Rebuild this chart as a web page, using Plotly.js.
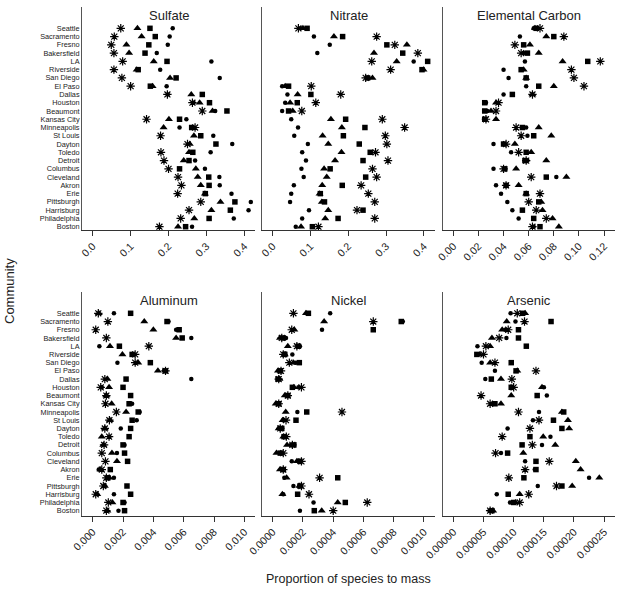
<!DOCTYPE html>
<html>
<head>
<meta charset="utf-8">
<script src="https://cdn.plot.ly/plotly-3.0.1.min.js"></script>
<style>html,body{margin:0;padding:0;background:#fff;}#chart{width:624px;height:596px;}</style>
</head>
<body>
<div id="chart"></div>
<script>
const communities = ["Seattle","Sacramento","Fresno","Bakersfield","LA","Riverside","San Diego","El Paso","Dallas","Houston","Beaumont","Kansas City","Minneapolis","St Louis","Dayton","Toledo","Detroit","Columbus","Cleveland","Akron","Erie","Pittsburgh","Harrisburg","Philadelphia","Boston"];

const panelTitles = ["Sulfate","Nitrate","Elemental Carbon","Aluminum","Nickel","Arsenic"];

// Sulfate
const sulfateCircle   = [0.211,0.203,0.198,0.169,0.313,0.178,0.335,0.195,0.198,0.266,0.323,0.247,0.229,0.318,0.368,0.311,0.270,0.296,0.334,0.335,0.366,0.417,0.411,0.372,0.262];
const sulfateTriangle = [0.118,0.129,0.089,0.096,0.161,0.116,0.204,0.158,0.260,0.282,0.316,0.201,0.187,0.267,0.256,0.254,0.240,0.272,0.277,0.285,0.296,0.337,0.313,0.268,0.225];
const sulfateSquare   = [0.151,0.165,0.148,0.138,0.196,0.120,0.220,0.152,0.289,0.308,0.354,0.229,0.261,0.285,0.325,0.264,0.254,0.229,0.306,0.307,0.297,0.375,0.363,0.307,0.245];
const sulfateStar     = [0.074,0.057,0.049,0.056,0.079,0.056,0.077,0.100,0.197,0.263,0.289,0.142,0.270,0.179,0.250,0.180,0.188,0.200,0.225,0.234,0.224,0.285,0.254,0.232,0.176];

// Nitrate
const nitrateCircle   = [0.074,0.109,0.151,0.118,0.373,0.396,0.254,0.025,0.039,0.033,0.025,0.049,0.067,0.057,0.093,0.078,0.088,0.076,0.082,0.056,0.049,0.046,0.096,0.078,0.061];
const nitrateTriangle = [0.080,0.162,0.355,0.268,0.328,0.399,0.264,0.033,0.066,0.046,0.053,0.154,0.183,0.132,0.147,0.182,0.165,0.136,0.143,0.131,0.124,0.130,0.147,0.139,0.075];
const nitrateSquare   = [0.091,0.185,0.302,0.344,0.410,0.395,0.251,0.042,0.101,0.065,0.042,0.193,0.244,0.187,0.229,0.258,0.239,0.152,0.246,0.184,0.126,0.137,0.239,0.173,0.105];
const nitrateStar     = [0.068,0.275,0.323,0.384,0.262,0.312,0.246,0.102,0.180,0.114,0.077,0.290,0.349,0.298,0.302,0.272,0.305,0.264,0.275,0.234,0.253,0.270,0.223,0.270,0.121];

// Elemental Carbon
const carbonCircle   = [0.064,0.053,0.056,0.056,0.057,0.040,0.044,0.058,0.040,0.026,0.027,0.025,0.058,0.059,0.032,0.046,0.059,0.032,0.082,0.034,0.038,0.043,0.047,0.052,0.064];
const carbonTriangle = [0.065,0.074,0.061,0.068,0.087,0.056,0.058,0.080,0.063,0.034,0.030,0.034,0.068,0.078,0.049,0.062,0.074,0.050,0.090,0.052,0.058,0.070,0.071,0.079,0.084];
const carbonSquare   = [0.066,0.080,0.056,0.059,0.107,0.054,0.058,0.068,0.047,0.025,0.025,0.025,0.055,0.064,0.040,0.058,0.057,0.041,0.074,0.042,0.058,0.068,0.055,0.064,0.069];
const carbonStar     = [0.069,0.088,0.049,0.054,0.117,0.094,0.096,0.104,0.063,0.036,0.034,0.026,0.050,0.054,0.042,0.052,0.058,0.040,0.062,0.042,0.069,0.060,0.066,0.074,0.063];

// Aluminum
const aluminumCircle   = [0.0014,0.0050,0.0055,0.0065,0.00044,0.0027,0.00163,0.0047,0.0065,0.0006,0.0009,0.0026,0.0031,0.0029,0.00185,0.0011,0.0021,0.0016,0.0023,0.0004,0.0014,0.0008,0.0014,0.0021,0.0017];
const aluminumTriangle = [0.0004,0.0034,0.0040,0.0055,0.00114,0.00196,0.0030,0.0043,0.00097,0.00108,0.0009,0.00125,0.0022,0.00114,0.0008,0.0006,0.0007,0.00127,0.0016,0.0005,0.0011,0.0008,0.0003,0.0013,0.00097];
const aluminumSquare   = [0.0025,0.0049,0.0057,0.0059,0.00176,0.0026,0.0038,0.0048,0.0022,0.0020,0.0025,0.0024,0.0030,0.0026,0.0025,0.0024,0.0020,0.0021,0.0023,0.00116,0.0010,0.00226,0.0025,0.0020,0.0021];
const aluminumStar     = [0.00037,0.0010,0.0002,0.0009,0.0037,0.0028,0.0028,0.0048,0.0008,0.00053,0.0009,0.00084,0.00156,0.0011,0.0008,0.00108,0.00075,0.0006,0.00084,0.0006,0.0009,0.0007,0.0002,0.00103,0.0009];

// Nickel
const nickelCircle   = [0.00038,0.00086,0.000326,0.000088,0.00018,0.00013,0.00015,0.00004,0.00004,0.00017,0.00009,0.00003,0.000163,0.00007,0.00005,0.00008,0.00012,0.00006,0.000126,0.00006,0.000077,0.000137,0.00007,0.00027,0.00018];
const nickelTriangle = [0.00022,0.00034,0.000143,0.000048,0.0001,0.00008,0.000137,0.000035,0.000045,0.00014,0.00008,0.00002,0.000086,0.000066,0.00004,0.00007,0.000095,0.000025,0.00016,0.000048,0.000092,0.000176,0.000064,0.00043,0.000324];
const nickelSquare   = [0.000236,0.00085,0.000665,0.00007,0.00017,0.00008,0.000176,0.00005,0.000035,0.00013,0.0001,0.00004,0.000225,0.000154,0.00006,0.000075,0.00014,0.00005,0.00018,0.00007,0.00043,0.00018,0.000165,0.00048,0.000275];
const nickelStar     = [0.000137,0.000665,0.000126,0.00006,0.00016,0.00007,0.00011,0.000055,0.00004,0.00019,0.0001,0.00004,0.000458,0.000088,0.00005,0.00009,0.00013,0.00007,0.00019,0.00007,0.00031,0.00019,0.00024,0.000625,0.0004];

// Arsenic
const arsenicCircle   = [0.000095,0.000103,0.000086,0.000088,0.00004,0.000041,0.000047,0.000069,0.000053,0.00015,0.000155,0.000066,0.000142,0.000132,0.00009,0.000161,0.000147,0.000079,0.000119,0.000135,0.000225,0.00014,0.000072,0.000094,0.00006];
const arsenicTriangle = [0.000119,0.0000885,0.000081,0.000064,0.000061,0.000044,0.000061,0.000106,0.000079,0.000147,0.000096,0.000079,0.00018,0.00019,0.000192,0.000149,0.000169,0.000116,0.000203,0.000211,0.000242,0.000197,0.00011,0.000103,0.000066];
const arsenicSquare   = [0.000115,0.000162,0.000108,0.000108,0.000121,0.000039,0.000096,0.000104,0.000063,0.000096,0.000139,0.000069,0.000183,0.000166,0.00018,0.000127,0.000114,0.00009,0.000137,0.000137,0.000117,0.00018,0.000091,0.0001,0.000064];
const arsenicStar     = [0.000106,0.000118,0.000091,0.000076,0.000054,0.00005,0.000069,0.000137,0.000097,0.0001,0.000046,0.000061,0.000108,0.000142,0.000127,0.000081,0.000131,0.00007,0.000159,0.000119,0.000092,0.000171,0.000125,0.00011,0.000061];

const xTickVals = [
  [0,0.1,0.2,0.3,0.4],
  [0,0.1,0.2,0.3,0.4],
  [0,0.02,0.04,0.06,0.08,0.10,0.12],
  [0,0.002,0.004,0.006,0.008,0.010],
  [0,0.0002,0.0004,0.0006,0.0008,0.0010],
  [0,0.00005,0.00010,0.00015,0.00020,0.00025]
];
const xTickText = [
  ["0.0","0.1","0.2","0.3","0.4"],
  ["0.0","0.1","0.2","0.3","0.4"],
  ["0.00","0.02","0.04","0.06","0.08","0.10","0.12"],
  ["0.000","0.002","0.004","0.006","0.008","0.010"],
  ["0.0000","0.0002","0.0004","0.0006","0.0008","0.0010"],
  ["0.00000","0.00005","0.00010","0.00015","0.00020","0.00025"]
];

const panelData = [
  [sulfateCircle, sulfateTriangle, sulfateSquare, sulfateStar],
  [nitrateCircle, nitrateTriangle, nitrateSquare, nitrateStar],
  [carbonCircle, carbonTriangle, carbonSquare, carbonStar],
  [aluminumCircle, aluminumTriangle, aluminumSquare, aluminumStar],
  [nickelCircle, nickelTriangle, nickelSquare, nickelStar],
  [arsenicCircle, arsenicTriangle, arsenicSquare, arsenicStar]
];

// layout geometry (pixels of the 624x596 page)
const W = 624, H = 596;
const colPx = [[82,255],[262,435],[443,615]];
const rowPx = [[7,230],[292,515.7]];
const xRanges = [
  [-0.0282, 0.428],
  [-0.0283, 0.4294],
  [-0.0082, 0.1287],
  [-0.000705, 0.0107],
  [-0.0000707, 0.001073],
  [-0.0000171, 0.000268]
];
const yRanges = [[-0.4, 26.58],[-0.61, 26.59]];

const symbols = [
  {symbol:"circle", size:4.5},
  {symbol:"triangle-up", size:7},
  {symbol:"square", size:5.5},
  {symbol:"asterisk-open", size:7}
];
const seriesNames = ["Series 1","Series 2","Series 3","Series 4"];

const font = "Liberation Sans, Arial, Helvetica, sans-serif";
const textColor = "#222";
const catOrder = communities.slice().reverse();

const traces = [];
const layout = {
  width: W, height: H,
  margin: {l:0,r:0,t:0,b:0},
  paper_bgcolor: "#fff", plot_bgcolor: "#fff",
  showlegend: false,
  font: {family: font, color: textColor},
  annotations: []
};

for (let p = 0; p < 6; p++) {
  const row = Math.floor(p / 3), col = p % 3;
  const n = p === 0 ? "" : String(p + 1);
  const xa = "x" + n, ya = "y" + n;
  panelData[p].forEach((vals, s) => {
    const sym = symbols[s];
    traces.push({
      type: "scatter", mode: "markers",
      x: vals, y: communities,
      xaxis: xa, yaxis: ya,
      name: seriesNames[s],
      marker: {
        symbol: sym.symbol, size: sym.size, color: "#000",
        line: {color: "#000", width: s === 3 ? 1.2 : 0}
      },
      cliponaxis: false,
      hoverinfo: "x+y"
    });
  });
  const cx = colPx[col], ry = rowPx[row];
  layout["xaxis" + n] = {
    domain: [cx[0] / W, cx[1] / W],
    anchor: ya,
    range: xRanges[p],
    showgrid: false, zeroline: false,
    showline: true, linecolor: "#333", linewidth: 1,
    ticks: "outside", ticklen: 5, tickwidth: 1, tickcolor: "#333",
    tickmode: "array", tickvals: xTickVals[p], ticktext: xTickText[p],
    tickangle: -45,
    tickfont: {family: font, size: 10.5, color: textColor},
    fixedrange: true
  };
  layout["yaxis" + n] = {
    domain: [1 - ry[1] / H, 1 - ry[0] / H],
    anchor: xa,
    type: "category",
    categoryorder: "array", categoryarray: catOrder,
    tickmode: "array", tickvals: communities, ticktext: communities,
    range: yRanges[row],
    showgrid: false, zeroline: false,
    showline: true, linecolor: "#555", linewidth: 1,
    ticks: "",
    showticklabels: col === 0,
    tickfont: {family: font, size: 7.3, color: textColor},
    fixedrange: true
  };
  layout.annotations.push({
    text: panelTitles[p],
    xref: "paper", yref: "paper",
    x: (cx[0] + cx[1]) / 2 / W,
    y: 1 - (row === 0 ? 16 : 300.7) / H,
    xanchor: "center", yanchor: "middle",
    showarrow: false,
    font: {family: font, size: 13, color: textColor}
  });
}

layout.annotations.push({
  text: "Community", textangle: -90,
  xref: "paper", yref: "paper",
  x: 9 / W, y: 1 - 291 / H,
  xanchor: "center", yanchor: "middle", showarrow: false,
  font: {family: font, size: 13, color: textColor}
});
layout.annotations.push({
  text: "Proportion of species to mass",
  xref: "paper", yref: "paper",
  x: 348.5 / W, y: 1 - 579 / H,
  xanchor: "center", yanchor: "middle", showarrow: false,
  font: {family: font, size: 12.5, color: textColor}
});

Plotly.newPlot("chart", traces, layout, {staticPlot: true, displayModeBar: false});
</script>
</body>
</html>
